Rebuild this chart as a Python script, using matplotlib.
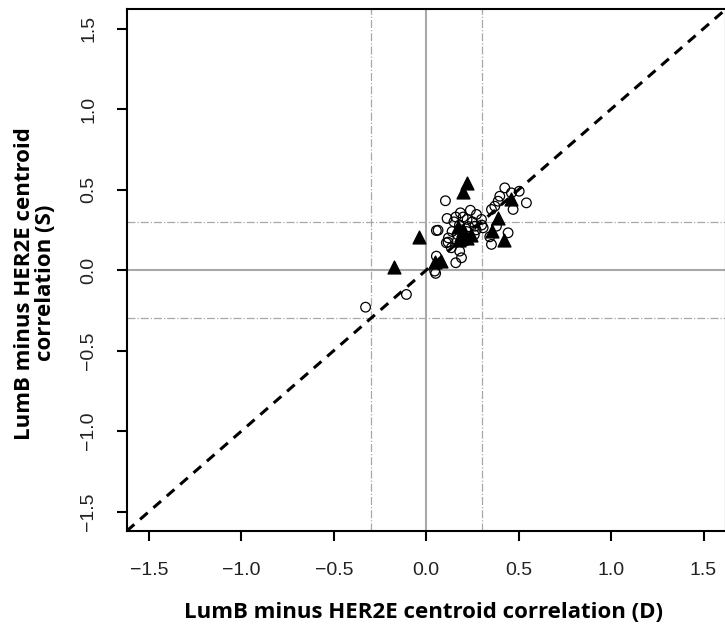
import matplotlib
matplotlib.use("Agg")
import matplotlib.pyplot as plt
import numpy as np

# Open circles: D (x) vs S (y)
circ_x = [0.104, 0.064, 0.185, 0.239, 0.272, 0.299, 0.113, 0.221, 0.263, 0.308,
          0.118, 0.136, 0.181, 0.191, 0.160, 0.055, 0.051, -0.107, -0.328, 0.055,
          0.046, 0.109, 0.425, 0.503, 0.461, 0.542, 0.470, 0.389, 0.371, 0.353,
          0.398, 0.344, 0.353, 0.443, 0.380, 0.150, 0.180, 0.200, 0.250, 0.270,
          0.220, 0.170, 0.260, 0.300, 0.140, 0.210, 0.120, 0.230, 0.190, 0.160]
circ_y = [0.431, 0.248, 0.356, 0.372, 0.346, 0.315, 0.321, 0.315, 0.273, 0.263,
          0.174, 0.139, 0.118, 0.077, 0.046, 0.087, -0.020, -0.151, -0.230, 0.246,
          -0.006, 0.170, 0.511, 0.490, 0.480, 0.418, 0.377, 0.428, 0.397, 0.377,
          0.459, 0.207, 0.160, 0.232, 0.273, 0.300, 0.280, 0.330, 0.300, 0.250,
          0.240, 0.220, 0.220, 0.280, 0.240, 0.180, 0.200, 0.270, 0.250, 0.330]

# Filled triangles
tri_x = [0.221, 0.199, -0.041, -0.174, 0.461, 0.389, 0.358, 0.421, 0.082, 0.050,
         0.170, 0.190, 0.220, 0.240, 0.200, 0.180]
tri_y = [0.543, 0.487, 0.207, 0.021, 0.439, 0.325, 0.242, 0.190, 0.056, 0.050,
         0.270, 0.220, 0.200, 0.220, 0.250, 0.190]

lims = (-1.62, 1.62)
ticks = [-1.5, -1.0, -0.5, 0.0, 0.5, 1.0, 1.5]
cut = 0.3

fig = plt.figure(figsize=(7.25, 6.28), dpi=100)
ax = fig.add_axes([126.7 / 725, 97 / 628, 599 / 725, 521.7 / 628])

gray = "#a8a8a8"
ax.axvline(0, color=gray, lw=1.5, zorder=1)
ax.axhline(0, color=gray, lw=1.5, zorder=1)
for c in (-cut, cut):
    ax.axvline(c, color=gray, lw=0.9, ls="-.", zorder=1)
    ax.axhline(c, color=gray, lw=0.9, ls="-.", zorder=1)

ax.plot(lims, lims, color="black", lw=2.2, ls=(0, (3.3, 2.5)), zorder=2)

ax.scatter(circ_x, circ_y, s=48, facecolors="none", edgecolors="black",
           linewidths=0.9, zorder=3)
ax.scatter(tri_x, tri_y, s=85, marker="^", color="black", zorder=4)

ax.set_xlim(lims)
ax.set_ylim(lims)
ax.set_xticks(ticks)
ax.set_yticks(ticks)
ax.set_xticklabels([f"{t:.1f}".replace("-", "\u2212") for t in ticks],
                   fontsize=14, family="Liberation Sans", color="#222222")
ax.set_yticklabels([f"{t:.1f}".replace("-", "\u2212") for t in ticks],
                   fontsize=14, family="Liberation Sans", color="#222222",
                   rotation=90, va="center")
ax.tick_params(axis="x", length=7.2, width=1.5, pad=15)
ax.tick_params(axis="y", length=7.2, width=1.5, pad=14)
for sp in ax.spines.values():
    sp.set_linewidth(1.5)

ax.set_xlabel("LumB minus HER2E centroid correlation (D)", fontsize=16,
              fontweight="bold", family="Open Sans")
ax.xaxis.set_label_coords(0.4955, -0.136)
ax.set_ylabel("LumB minus HER2E centroid\ncorrelation (S)", fontsize=16,
              fontweight="bold", family="Open Sans", linespacing=1.0)
ax.yaxis.set_label_coords(-0.118, 0.475)

fig.savefig("out.png", dpi=100)
